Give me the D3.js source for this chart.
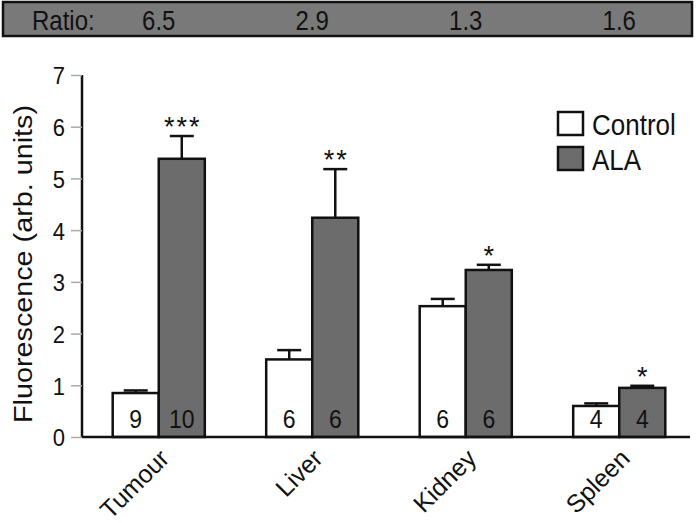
<!DOCTYPE html>
<html>
<head>
<meta charset="utf-8">
<script src="https://cdn.jsdelivr.net/npm/d3@7"></script>
<style>
  body { margin: 0; background: #fff; }
  text { font-family: "Liberation Sans", Arial, sans-serif; fill: #111; }
</style>
</head>
<body>
<script>
// values
const organs = ["Tumour", "Liver", "Kidney", "Spleen"];
const groups = ["Control", "ALA"];
const controlMean = [0.85, 1.5, 2.53, 0.6];
const controlErr = [0.05, 0.18, 0.14, 0.05];
const alaMean = [5.38, 4.24, 3.23, 0.95];
const alaErr = [0.44, 0.94, 0.1, 0.04];
const controlN = [9, 6, 6, 4];
const alaN = [10, 6, 6, 4];
const stars = ["***", "**", "*", "*"];
const ratios = ["6.5", "2.9", "1.3", "1.6"];
const yTicks = [0, 1, 2, 3, 4, 5, 6, 7];

const width = 696, height = 523;
const fills = { Control: "#ffffff", ALA: "#6c6c6c" };
const stretch = 1.12; // the figure's lettering is a bit taller than wide

const svg = d3.select("body").append("svg")
    .attr("width", width)
    .attr("height", height);

const x = d3.scaleBand().domain(organs).range([82, 696]).paddingInner(0.4).paddingOuter(0.2);
const xs = d3.scaleBand().domain(groups).range([0, x.bandwidth()]);
const y = d3.scaleLinear().domain([0, 7]).range([437, 75]);

const tall = (px, py) => `translate(${px},${py}) scale(1,${stretch})`;

const rows = organs.map((o, i) => ({
  organ: o,
  bars: [
    { g: "Control", v: controlMean[i], e: controlErr[i], n: controlN[i] },
    { g: "ALA", v: alaMean[i], e: alaErr[i], n: alaN[i] }
  ],
  star: stars[i],
  ratio: ratios[i]
}));

// ratio strip at the top
svg.append("rect")
    .attr("x", 3).attr("y", 2).attr("width", 689).attr("height", 34)
    .attr("fill", "#797979").attr("stroke", "#111").attr("stroke-width", 2.5);
svg.append("text").attr("transform", tall(32, 30)).attr("font-size", 24).text("Ratio:");
svg.append("g").selectAll("text").data(rows).join("text")
    .attr("transform", d => tall(x(d.organ) + x.bandwidth() / 2, 30))
    .attr("text-anchor", "middle")
    .attr("font-size", 24)
    .text(d => d.ratio);

// y axis
const yAxis = svg.append("g")
    .attr("transform", "translate(82,0)")
    .call(d3.axisLeft(y).tickValues(yTicks).tickFormat(d3.format("d")).tickSize(11).tickPadding(6));
yAxis.select(".domain").attr("stroke", "#111").attr("stroke-width", 2.5).attr("d", `M0,${y(7)}V${y(0)}`);
yAxis.selectAll(".tick line").attr("stroke", "#aaa").attr("stroke-width", 1.5);
yAxis.selectAll(".tick text")
    .attr("font-size", 22).attr("fill", "#111")
    .attr("font-family", "Liberation Sans, Arial, sans-serif")
    .attr("dy", null)
    .attr("transform", d => `translate(-17,0) scale(1,${stretch}) translate(17,0)`)
    .attr("y", 8);

svg.append("text")
    .attr("transform", `translate(32,${(y(0) + y(7)) / 2 + 8}) rotate(-90) scale(${stretch + 0.03},1)`)
    .attr("text-anchor", "middle")
    .attr("font-size", 25)
    .text("Fluorescence (arb. units)");

// bars
const grp = svg.append("g").selectAll("g").data(rows).join("g")
    .attr("transform", d => `translate(${x(d.organ)},0)`);

const bar = grp.selectAll("g").data(d => d.bars).join("g")
    .attr("transform", d => `translate(${xs(d.g)},0)`);

// error bars (upper only)
bar.append("line")
    .attr("x1", xs.bandwidth() / 2).attr("x2", xs.bandwidth() / 2)
    .attr("y1", d => y(d.v)).attr("y2", d => y(d.v + d.e))
    .attr("stroke", "#111").attr("stroke-width", 2.5);
bar.append("line")
    .attr("x1", xs.bandwidth() / 2 - 12).attr("x2", xs.bandwidth() / 2 + 12)
    .attr("y1", d => y(d.v + d.e)).attr("y2", d => y(d.v + d.e))
    .attr("stroke", "#111").attr("stroke-width", 2.5);

bar.append("rect")
    .attr("x", 0).attr("width", xs.bandwidth())
    .attr("y", d => y(d.v)).attr("height", d => y(0) - y(d.v))
    .attr("fill", d => fills[d.g])
    .attr("stroke", "#111").attr("stroke-width", 2.5);

bar.append("text")
    .attr("transform", tall(xs.bandwidth() / 2, 428))
    .attr("text-anchor", "middle").attr("font-size", 23)
    .text(d => d.n);

// significance stars above ALA error bars
grp.append("text")
    .attr("x", xs("ALA") + xs.bandwidth() / 2 + 1)
    .attr("y", d => y(d.bars[1].v + d.bars[1].e))
    .attr("text-anchor", "middle").attr("font-size", 27)
    .attr("letter-spacing", 2)
    .text(d => d.star);

// baseline
svg.append("line")
    .attr("x1", 82).attr("x2", 690).attr("y1", y(0)).attr("y2", y(0))
    .attr("stroke", "#111").attr("stroke-width", 2.5);

// rotated category labels
svg.append("g").selectAll("text").data(organs).join("text")
    .attr("transform", d => `translate(${x(d) + x.bandwidth() / 2 + 12},460) rotate(-45)`)
    .attr("text-anchor", "end")
    .attr("font-size", 25)
    .text(d => d);

// legend
const leg = svg.append("g").attr("transform", "translate(558,112)");
leg.selectAll("g").data(groups).join("g")
    .attr("transform", (d, i) => `translate(0,${i * 35})`)
    .call(g => {
      g.append("rect").attr("width", 25).attr("height", 23)
          .attr("fill", d => fills[d]).attr("stroke", "#111").attr("stroke-width", 2.5);
      g.append("text").attr("transform", tall(34, 23)).attr("font-size", 26).text(d => d);
    });
</script>
</body>
</html>
